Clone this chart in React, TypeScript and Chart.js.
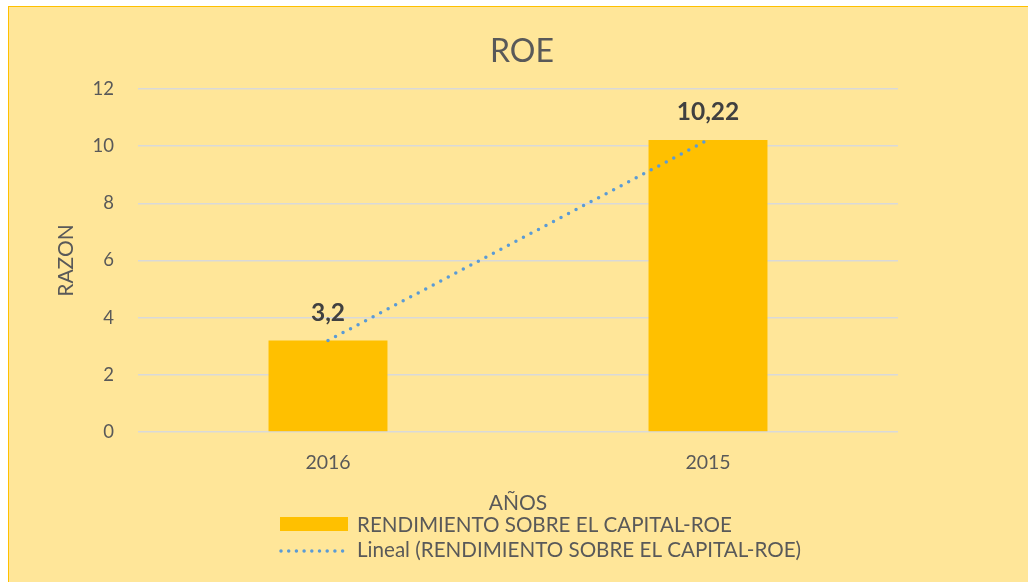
import React, { useEffect, useRef } from "react";
import { Chart, registerables } from "chart.js";

Chart.register(...registerables);

const categories = ["2016", "2015"];
const roeValues = [3.2, 10.22];
const trendValues = [3.2, 10.22];
const yTickValues = [0, 2, 4, 6, 8, 10, 12];
const chartTitle = "ROE";
const seriesLabel = "RENDIMIENTO SOBRE EL CAPITAL-ROE";
const trendLabel = "Lineal (RENDIMIENTO SOBRE EL CAPITAL-ROE)";
const yAxisTitle = "RAZON";
const xAxisTitle = "AÑOS";

const FONT = "Lato";
const TEXT = "#595959";
const BAR = "#FFC000";
const TREND = "#5B9BD5";

const fmt = (v: number) => String(v).replace(".", ",");

const decorPlugin = {
  id: "decor",
  afterDraw(chart: any) {
    const ctx = chart.ctx as CanvasRenderingContext2D;
    ctx.save();
    // Title
    ctx.font = `32px ${FONT}`;
    ctx.fillStyle = TEXT;
    ctx.textAlign = "center";
    ctx.textBaseline = "alphabetic";
    ctx.fillText(chartTitle, 522, 62);

    // Data labels
    const meta = chart.getDatasetMeta(0);
    ctx.font = `bold 24.5px ${FONT}`;
    ctx.fillStyle = "#404040";
    meta.data.forEach((bar: any, i: number) => {
      const v = chart.data.datasets[0].data[i] as number;
      ctx.fillText(fmt(v), bar.x, bar.y - 20);
    });

    // Legend
    ctx.textAlign = "left";
    ctx.font = `20.6px ${FONT}`;
    ctx.fillStyle = BAR;
    ctx.fillRect(280, 517, 68, 14);
    ctx.fillStyle = TEXT;
    ctx.fillText(chart.data.datasets[0].label, 357, 531.5);

    ctx.strokeStyle = TREND;
    ctx.lineWidth = 3.5;
    ctx.lineCap = "round";
    ctx.setLineDash([0, 7.7]);
    ctx.beginPath();
    ctx.moveTo(281, 551);
    ctx.lineTo(343, 551);
    ctx.stroke();
    ctx.setLineDash([]);
    ctx.fillStyle = TEXT;
    ctx.fillText(chart.data.datasets[1].label, 357, 556.5);
    ctx.restore();
  },
};

export default function App() {
  const ref = useRef<HTMLCanvasElement | null>(null);

  useEffect(() => {
    document.body.style.overflow = "hidden";
    if (!ref.current) return;
    const chart = new Chart(ref.current, {
      type: "bar",
      data: {
        labels: categories,
        datasets: [
          {
            type: "bar",
            label: seriesLabel,
            data: roeValues,
            backgroundColor: BAR,
            borderWidth: 0,
            categoryPercentage: 1,
            barPercentage: 0.313,
            order: 2,
          },
          {
            type: "line",
            label: trendLabel,
            data: trendValues,
            borderColor: TREND,
            borderWidth: 3.5,
            borderDash: [0, 8.5],
            borderCapStyle: "round",
            pointRadius: 0,
            fill: false,
            tension: 0,
            order: 1,
          } as any,
        ],
      },
      options: {
        responsive: false,
        animation: false,
        devicePixelRatio: 1,
        layout: { padding: { left: 0, right: 130, top: 89, bottom: 60 } },
        plugins: {
          legend: { display: false },
          title: { display: false },
          tooltip: { enabled: false },
        },
        scales: {
          x: {
            grid: { display: false, drawTicks: false },
            border: { display: false },
            ticks: {
              color: TEXT,
              font: { family: FONT, size: 19.5 },
              padding: 19,
            },
            title: {
              display: true,
              text: xAxisTitle,
              color: TEXT,
              font: { family: FONT, size: 21 },
              padding: { top: 0, bottom: 6 },
            },
            afterFit: (scale: any) => {
              scale.height = 90;
            },
          },
          y: {
            min: 0,
            max: 12,
            grid: { color: "#D9D9D9", lineWidth: 1.5, drawTicks: false },
            border: { display: false },
            afterBuildTicks: (scale: any) => {
              scale.ticks = yTickValues.map((v) => ({ value: v }));
            },
            ticks: {
              color: TEXT,
              font: { family: FONT, size: 18.5 },
              padding: 24,
            },
            title: {
              display: true,
              text: yAxisTitle,
              color: TEXT,
              font: { family: FONT, size: 21 },
              padding: { top: 54, bottom: 0 },
            },
            afterFit: (scale: any) => {
              scale.width = 138;
            },
          },
        },
      },
      plugins: [decorPlugin],
    });
    return () => chart.destroy();
  }, []);

  return (
    <div
      style={{
        position: "fixed",
        left: 0,
        top: 0,
        width: 1028,
        height: 582,
        overflow: "hidden",
        background: "#ffffff",
      }}
    >
      <div
        style={{
          position: "absolute",
          left: 8,
          top: 6,
          width: 1040,
          height: 600,
          boxSizing: "border-box",
          borderLeft: "1.5px solid #FFC000",
          borderTop: "1.5px solid #FFC000",
          background: "#FFE699",
        }}
      />
      <canvas
        ref={ref}
        width={1028}
        height={582}
        style={{ position: "absolute", left: 0, top: 0, width: 1028, height: 582 }}
      />
    </div>
  );
}
